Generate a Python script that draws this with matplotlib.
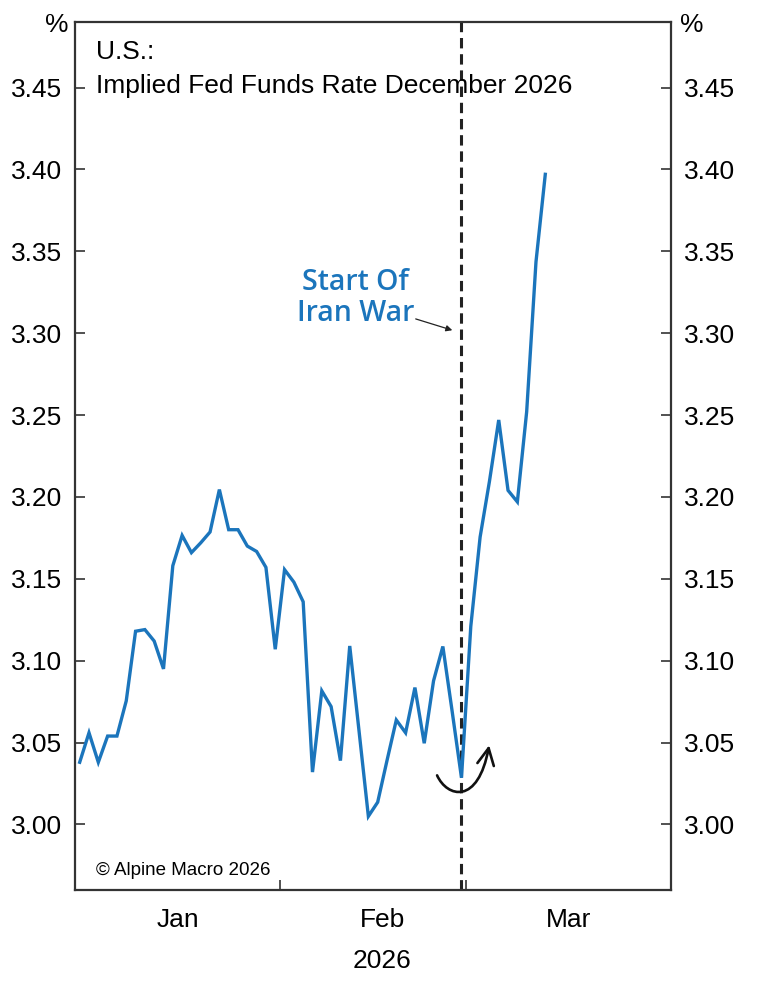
"""
Implied Fed Funds rate for December 2026, Jan-Mar 2026.
"""

import matplotlib
matplotlib.use("Agg")
import matplotlib.pyplot as plt
from matplotlib.path import Path
from matplotlib.patches import FancyArrowPatch
import numpy as np
import pandas as pd

# daily (weekday) readings, %
rate = [3.038, 3.056, 3.038, 3.054, 3.054, 3.0755, 3.118, 3.119, 3.112, 3.095,
        3.158, 3.1765, 3.166, 3.172, 3.1786, 3.2045, 3.180, 3.180, 3.170, 3.1667,
        3.157, 3.107, 3.1556, 3.148, 3.136, 3.032, 3.0816, 3.072, 3.039, 3.109,
        3.057, 3.005, 3.0136, 3.039, 3.0638, 3.056, 3.0836, 3.0496, 3.0877, 3.1087,
        3.069, 3.0285, 3.121, 3.1755, 3.2094, 3.247, 3.204, 3.197, 3.252, 3.3435,
        3.397]
month_names = ["Jan", "Feb", "Mar"]
yticks = [3.00, 3.05, 3.10, 3.15, 3.20, 3.25, 3.30, 3.35, 3.40, 3.45]
war_date = "2026-02-27"

BLUE = "#1b75bc"
DARK = "#333333"
FONT = ["Liberation Sans", "DejaVu Sans"]
FS = 19

plt.rcParams["font.family"] = FONT

axis_days = pd.bdate_range("2026-01-01", "2026-03-31")
dates = axis_days[:len(rate)]
x = np.arange(len(dates))

fig = plt.figure(figsize=(7.68, 10), dpi=100)
ax = fig.add_axes([0.0977, 0.110, 0.776, 0.868])

ax.plot(x, rate, color=BLUE, lw=2.4, solid_joinstyle="miter", zorder=3)

war_idx = axis_days.get_loc(pd.Timestamp(war_date))
ax.axvline(war_idx, color="#222222", lw=2.2, ls=(0, (3.4, 1.9)), zorder=2)

ax.set_xlim(-0.5, len(axis_days) - 0.5)
ax.set_ylim(2.96, 3.49)

# month boundaries as ticks, labels offset into each month
starts = [int(np.argmax(axis_days.month == m)) - 0.5 for m in (1, 2, 3)]
ax.set_xticks(starts[1:])
ax.set_xticklabels([])
ax.set_xticks([s + 11 for s in starts], minor=True)
ax.set_xticklabels(month_names, minor=True)
ax.tick_params(axis="x", which="major", direction="in", length=7, width=1.2, color=DARK)
ax.tick_params(axis="x", which="minor", length=0, pad=13, labelsize=FS)

ax.set_yticks(yticks)
ax.set_yticklabels(["{:.2f}".format(v) for v in yticks])
ax.tick_params(axis="y", direction="in", length=7, width=1.2, color=DARK,
               left=True, right=True, labelleft=True, labelright=True,
               labelsize=FS, pad=9)

for sp in ax.spines.values():
    sp.set_color(DARK)
    sp.set_linewidth(1.6)

ax.set_xlabel("2026", fontsize=FS)
ax.xaxis.set_label_coords((starts[1] + 11 + 0.5) / len(axis_days), -0.068)

fig.text(57 / 768, 1 - 25 / 1000, "%", fontsize=FS, ha="center", va="center")
fig.text(692 / 768, 1 - 25 / 1000, "%", fontsize=FS, ha="center", va="center")

ax.text(0.035, 0.965, "U.S.:", transform=ax.transAxes, fontsize=FS,
        ha="left", va="center")
ax.text(0.035, 0.926, "Implied Fed Funds Rate December 2026",
        transform=ax.transAxes, fontsize=FS, ha="left", va="center")
ax.text(0.035, 0.023, "\u00a9 Alpine Macro 2026", transform=ax.transAxes,
        fontsize=13.5, ha="left", va="center")

# event annotation
ax.text(29.6, 3.3215, "Start Of\nIran War", color=BLUE, fontsize=20.5,
        family=["Open Sans", "DejaVu Sans"], weight="semibold",
        ha="center", va="center", linespacing=1.07)
ax.annotate("", xy=(40.3, 3.3013), xytext=(35.8, 3.3092),
            arrowprops=dict(arrowstyle="-|>", color="#222222", lw=0.9,
                            mutation_scale=9))

# curved "rebound" arrow around the low
curve = Path([(38.38, 3.030), (39.45, 3.0165), (42.79, 3.0116), (43.97, 3.0484)],
             [Path.MOVETO, Path.CURVE4, Path.CURVE4, Path.CURVE4])
ax.add_patch(FancyArrowPatch(path=curve, arrowstyle="->", color="#111111",
                             lw=1.9, mutation_scale=30, zorder=4))

fig.savefig("out.png", dpi=100)
